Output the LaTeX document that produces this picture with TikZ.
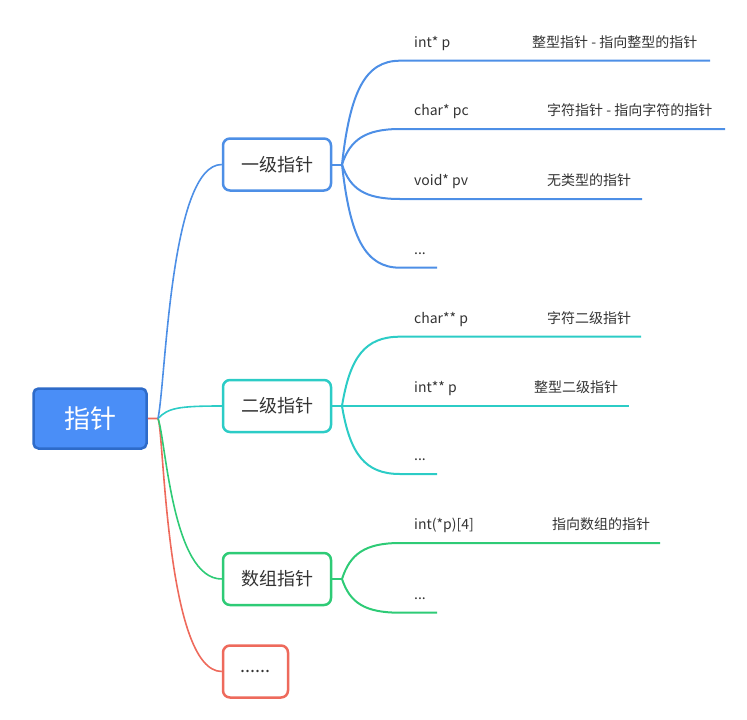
\documentclass[tikz,border=0pt]{standalone}
\usepackage{fontspec}
\setmainfont{Noto Sans CJK SC}
\definecolor{rootfill}{HTML}{4A8EF7}
\definecolor{rootline}{HTML}{2E6BC9}
\definecolor{lvone}{HTML}{4D8FE6}
\definecolor{lvtwo}{HTML}{2CCCC6}
\definecolor{lvarr}{HTML}{2ECB76}
\definecolor{lvmore}{HTML}{EE6A5C}
\definecolor{txt}{HTML}{333333}
\begin{document}
\begin{tikzpicture}[x=1pt, y=-1pt,
        topic/.style={draw, line width=2.5pt, rounded corners=7pt, fill=white, minimum width=108pt, minimum height=52pt, text=txt, font=\fontsize{18}{18}\selectfont},
        branch/.style={line width=1.6pt},
        twig/.style={line width=2pt},
        leaf/.style={anchor=base west, inner sep=0pt, text=txt, font=\fontsize{14}{14}\selectfont}]
    \useasboundingbox (0,0) rectangle (747,720);
    \node [draw=rootline, fill=rootfill, line width=2.5pt, rounded corners=5pt, minimum width=113pt, minimum height=60pt, text=white, font=\fontsize{26}{26}\selectfont] (root) at (90,418.5) {指针};
    \node [topic, draw=lvone] (one) at (277,164.5) {一级指针};
    \node [topic, draw=lvtwo] (two) at (277,406) {二级指针};
    \node [topic, draw=lvarr] (arr) at (277,579) {数组指针};
    \node [topic, draw=lvmore, minimum width=65pt] (more) at (255.5,671.5) {......};
    \coordinate (hub) at (158,418.5);
    \draw [branch, lvmore] (root.east) -- (hub) .. controls (164,430) and (166,671.5) .. (more.west);
    \draw [branch, lvarr] (hub) .. controls (166,440) and (172,579) .. (arr.west);
    \draw [branch, lvtwo] (hub) .. controls (168,408) and (178,406) .. (two.west);
    \draw [branch, lvone] (hub) .. controls (166,380) and (170,164.5) .. (one.west);
    \coordinate (hone) at (342,164.5);
    \coordinate (htwo) at (342,406);
    \coordinate (harr) at (342,579);
    \draw [twig, lvone] (one.east) -- (hone);
    \draw [twig, lvtwo] (two.east) -- (htwo);
    \draw [twig, lvarr] (arr.east) -- (harr);
    \coordinate (a1) at (400,60.7);
    \coordinate (a1e) at (710,60.7);
    \coordinate (a2) at (400,129);
    \coordinate (a2e) at (725,129);
    \coordinate (a3) at (400,199);
    \coordinate (a3e) at (642,199);
    \coordinate (a4) at (400,267.7);
    \coordinate (a4e) at (437,267.7);
    \draw [twig, lvone] (hone) .. controls (350,92) and (365,60.7) .. (a1) -- (a1e);
    \draw [twig, lvone] (hone) .. controls (350,140) and (365,129) .. (a2) -- (a2e);
    \draw [twig, lvone] (hone) .. controls (350,189) and (365,199) .. (a3) -- (a3e);
    \draw [twig, lvone] (hone) .. controls (350,237) and (365,267.7) .. (a4) -- (a4e);
    \coordinate (b1) at (400,336.7);
    \coordinate (b1e) at (641,336.7);
    \coordinate (b2e) at (629,406);
    \coordinate (b3) at (400,474);
    \coordinate (b3e) at (437,474);
    \draw [twig, lvtwo] (htwo) .. controls (350,357) and (365,336.7) .. (b1) -- (b1e);
    \draw [twig, lvtwo] (htwo) -- (b2e);
    \draw [twig, lvtwo] (htwo) .. controls (350,454) and (365,474) .. (b3) -- (b3e);
    \coordinate (c1) at (400,543);
    \coordinate (c1e) at (660,543);
    \coordinate (c2) at (400,612.7);
    \coordinate (c2e) at (437,612.7);
    \draw [twig, lvarr] (harr) .. controls (350,554) and (365,543) .. (c1) -- (c1e);
    \draw [twig, lvarr] (harr) .. controls (350,603) and (365,612.7) .. (c2) -- (c2e);
    \node [leaf] (p1) at (414,47) {int* p};
    \node [leaf] (q1) at (532,47) {整型指针 - 指向整型的指针};
    \node [leaf] (p2) at (414,115) {char* pc};
    \node [leaf] (q2) at (547,115) {字符指针 - 指向字符的指针};
    \node [leaf] (p3) at (414,185) {void* pv};
    \node [leaf] (q3) at (547,185) {无类型的指针};
    \node [leaf] (p4) at (414,254) {...};
    \node [leaf] (r1) at (414,323) {char** p};
    \node [leaf] (s1) at (547,323) {字符二级指针};
    \node [leaf] (r2) at (414,392) {int** p};
    \node [leaf] (s2) at (534,392) {整型二级指针};
    \node [leaf] (r3) at (414,460) {...};
    \node [leaf] (u1) at (414,529) {int(*p)[4]};
    \node [leaf] (v1) at (552,529) {指向数组的指针};
    \node [leaf] (u2) at (414,599) {...};
\end{tikzpicture}
\end{document}
